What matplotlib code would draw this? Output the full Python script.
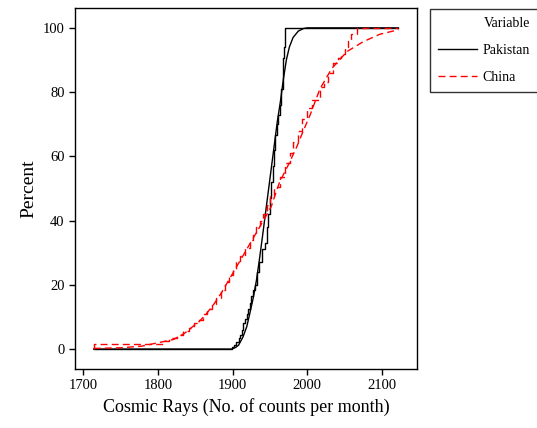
import matplotlib
matplotlib.use("Agg")
import matplotlib.pyplot as plt

plt.rcParams['font.family'] = ['Liberation Serif', 'DejaVu Serif']

# Pakistan: empirical CDF (steps) and fitted CDF (smooth)
pak_emp_x = [1714, 1899, 1902, 1905, 1908, 1910, 1912, 1914.5, 1917, 1919, 1921, 1923, 1925,
             1927, 1930, 1933, 1936, 1940, 1943.5, 1946, 1948, 1950, 1952, 1954, 1956, 1957,
             1959, 1961, 1963, 1965, 1967, 1968, 1969, 1970, 2122]
pak_emp_y = [0, 0.5, 1.2, 2.3, 3.3, 4.4, 6, 8, 9.5, 11, 12.5, 14.2, 16.5,
             18.4, 20, 24, 27, 31, 33, 38, 42, 47, 52, 57, 62, 66.7,
             70, 73, 76, 81, 86, 90.6, 94, 100, 100]

pak_fit_x = [1714, 1899, 1904, 1908, 1914, 1919, 1923, 1928, 1932, 1936, 1940, 1945, 1950,
             1955, 1960, 1964, 1968, 1972, 1976, 1981, 1988, 1995, 2000, 2122]
pak_fit_y = [0, 0, 0.5, 1.2, 3.8, 7, 11, 16.3, 21.5, 28, 35, 44, 53,
             62, 71, 77, 84, 90, 94, 97, 99, 99.8, 100, 100]

# China: empirical CDF (steps) and fitted CDF (smooth)
chn_emp_x = [1714, 1714, 1805, 1815, 1825, 1833, 1841, 1848, 1854, 1860, 1866, 1872, 1878,
             1885, 1890, 1895, 1900, 1905, 1910, 1916, 1923, 1928, 1932, 1937, 1941, 1946,
             1950, 1956, 1963, 1970, 1977, 1981, 1987, 1993, 2000, 2006, 2017, 2022, 2028,
             2034, 2041, 2045, 2050, 2055, 2059, 2066, 2122]
chn_emp_y = [0, 1.5, 2.5, 3.5, 4.5, 5.5, 6.5, 8, 9, 11, 12.5, 14, 16,
             18.5, 21, 23, 25, 27, 29, 31.5, 34, 36, 38, 40, 42, 45,
             47.5, 50.5, 53.5, 58, 61, 64.5, 68, 71.5, 75, 77.6, 81.7, 83, 86,
             89, 90.6, 92, 94, 96, 98, 100, 100]

chn_fit_x = [1714, 1750, 1778, 1801, 1821, 1835, 1845, 1855, 1865, 1875, 1885, 1895, 1905,
             1915, 1925, 1935, 1945, 1952, 1957, 1963, 1975, 1986, 1993, 2004, 2017, 2033,
             2053, 2075, 2097, 2122]
chn_fit_y = [0.2, 0.4, 0.9, 2, 3, 4.8, 6.7, 8.5, 11, 14, 17.5, 21.5, 25.5,
             29.5, 33.5, 37.5, 41.5, 44.5, 48, 52, 57.5, 63, 67, 73, 81, 87.4,
             92.6, 95.7, 98, 99.4]

fig = plt.figure(figsize=(5.37, 4.28), dpi=100)
ax = fig.add_axes([0.1397, 0.1379, 0.6369, 0.8435])

dash = (0, (5, 3))
ax.plot(pak_emp_x, pak_emp_y, color='black', lw=1, drawstyle='steps-post', label='Pakistan')
ax.plot(pak_fit_x, pak_fit_y, color='black', lw=1)
ax.plot(chn_emp_x, chn_emp_y, color='red', lw=1, ls=dash, drawstyle='steps-post', label='China')
ax.plot(chn_fit_x, chn_fit_y, color='red', lw=1, ls=dash)

ax.set_xlim(1689, 2147)
ax.set_ylim(-6.2, 106.2)
ax.set_xticks([1700, 1800, 1900, 2000, 2100])
ax.set_yticks([0, 20, 40, 60, 80, 100])
ax.tick_params(direction='out', length=4, width=1, labelsize=10.5)
for s in ax.spines.values():
    s.set_linewidth(1)

ax.set_xlabel('Cosmic Rays (No. of counts per month)', fontsize=13)
ax.set_ylabel('Percent', fontsize=14)

leg = fig.legend(loc='upper left', bbox_to_anchor=(430 / 537, 1 - 9 / 428),
                 title='Variable', fontsize=10, title_fontsize=10, frameon=True,
                 fancybox=False, edgecolor='black', alignment='right',
                 handlelength=2.8, handletextpad=0.4, borderpad=0.6,
                 labelspacing=1.0, borderaxespad=0)
leg.get_frame().set_linewidth(1)

fig.savefig('out.png', dpi=100)
